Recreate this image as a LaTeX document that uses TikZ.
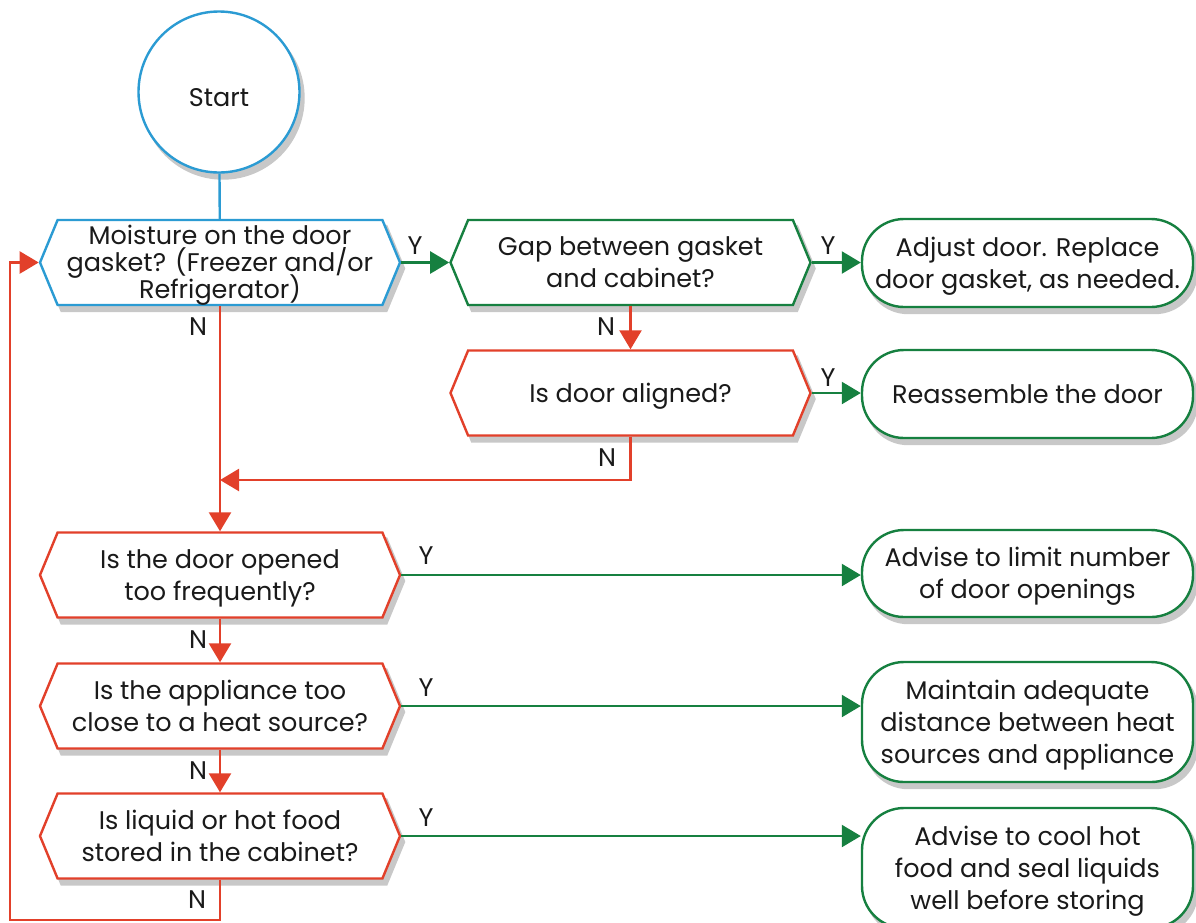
\documentclass[tikz,border=0pt]{standalone}
\usepackage{fontspec}
\setmainfont{Poppins}
\usetikzlibrary{shapes.symbols,shapes.misc,arrows.meta}
\definecolor{cblue}{HTML}{2B9BD3}
\definecolor{cgreen}{HTML}{168040}
\definecolor{cred}{HTML}{E2402A}
\definecolor{cshadow}{HTML}{C8C8C8}
\definecolor{ctext}{HTML}{1A1A1A}
\begin{document}
\lineskiplimit=-50pt\relax
\begin{tikzpicture}[x=1pt,y=-1pt,
  every node/.style={font=\fontsize{25.5}{32}\selectfont, text=ctext},
  shad/.style={preaction={fill=cshadow, draw=cshadow, transform canvas={shift={(4pt,-6pt)}}}},
  hexa/.style={shape=signal, signal to=east and west, signal pointer angle=135,
    minimum width=360pt, minimum height=85pt, inner sep=0pt, align=center,
    fill=white, line width=2.4pt, shad},
  term/.style={rectangle, rounded corners=42pt, minimum width=331pt, inner sep=0pt,
    align=center, fill=white, line width=2.4pt, draw=cgreen, shad},
  one/.style={text height=20pt, text depth=2pt},
  two/.style={text height=52pt, text depth=2pt},
  three/.style={text height=84pt, text depth=2pt},
  conn/.style={line width=2.4pt},
  arr/.style={conn, -{Triangle[length=19pt,width=22pt]}},
  lab/.style={inner sep=0pt, font=\fontsize{25.5}{28}\selectfont},
]
\useasboundingbox (0,0) rectangle (1196,922);

% start
\node[circle, draw=cblue, line width=2.4pt, fill=white, minimum size=161pt, inner sep=0pt,
  text height=28pt, text depth=0pt, shad] (start) at (219,92) {Start};

% decisions
\node[hexa, draw=cblue, font=\fontsize{25.5}{27}\selectfont,
  text height=74pt, text depth=2pt] (q1) at (220,262.5) {Moisture on the door\\gasket? (Freezer and/or\\Refrigerator)};
\node[hexa, two, draw=cgreen] (q2) at (630.5,262.5) {Gap between gasket\\and cabinet?};
\node[hexa, one, draw=cred] (q3) at (630.5,393) {Is door aligned?};
\node[hexa, two, draw=cred] (q4) at (220,575) {Is the door opened\\too frequently?};
\node[hexa, two, draw=cred] (q5) at (220,706) {Is the appliance too\\close to a heat source?};
\node[hexa, two, draw=cred] (q6) at (220,836) {Is liquid or hot food\\stored in the cabinet?};

% actions
\node[term, two, minimum height=88pt] (a1) at (1027.5,263) {Adjust door. Replace\\door gasket, as needed.};
\node[term, one, minimum height=88pt] (a2) at (1027.5,394) {Reassemble the door};
\node[term, two, minimum height=87pt] (a3) at (1027.5,573.5) {Advise to limit number\\of door openings};
\node[term, three, minimum height=120pt] (a4) at (1027.5,722) {Maintain adequate\\distance between heat\\sources and appliance};
\node[term, three, minimum height=120pt] (a5) at (1027.5,868) {Advise to cool hot\\food and seal liquids\\well before storing};

% connectors
\draw[conn, cblue] (start) -- (q1);
\draw[arr, cgreen] (q1.east) -- (q2.west);
\draw[arr, cgreen] (q2.east) -- (q2.east -| a1.west);
\draw[arr, cred] (q2.south) -- (q3.north);
\draw[arr, cgreen] (q3.east) -- (q3.east -| a2.west);
\coordinate (merge) at (220,480);
\draw[arr, cred] (q3.south) |- (merge);
\draw[arr, cred] (q1.south) -- (q4.north);
\draw[arr, cgreen] (q4.east) -- (q4.east -| a3.west);
\draw[arr, cred] (q4.south) -- (q5.north);
\draw[arr, cgreen] (q5.east) -- (q5.east -| a4.west);
\draw[arr, cred] (q5.south) -- (q6.north);
\draw[arr, cgreen] (q6.east) -- (q6.east -| a5.west);
\coordinate (loop) at (10,920);
\draw[arr, cred] (q6.south) |- (loop) |- (q1.west);

% labels
\node[lab] (y1) at (415,246) {Y};
\node[lab] (y2) at (828,246) {Y};
\node[lab] (y3) at (828,378) {Y};
\node[lab] (y4) at (426,556) {Y};
\node[lab] (y5) at (426,688) {Y};
\node[lab] (y6) at (426,818) {Y};
\node[lab] (n1) at (198,327) {N};
\node[lab] (n2) at (606,327) {N};
\node[lab] (n3) at (607,458) {N};
\node[lab] (n4) at (198,640) {N};
\node[lab] (n5) at (198,771) {N};
\node[lab] (n6) at (197,900) {N};
\end{tikzpicture}
\end{document}
